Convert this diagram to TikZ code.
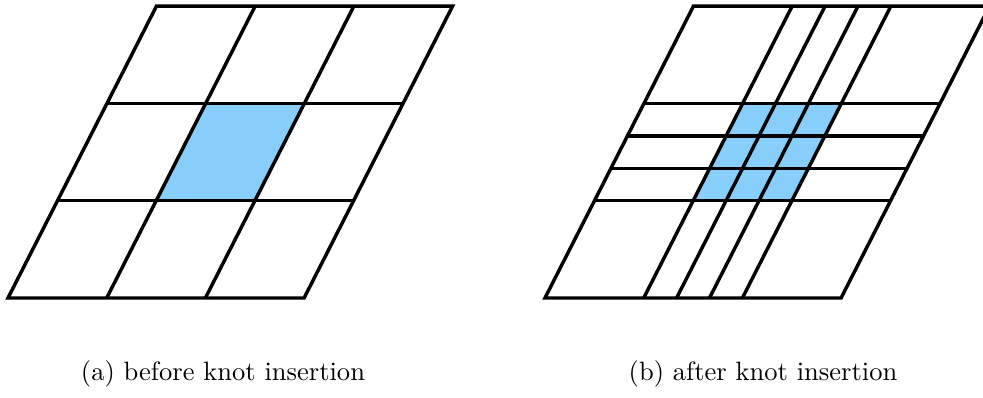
\documentclass[tikz,border=0pt]{standalone}
\definecolor{cellblue}{RGB}{135,206,250}
\begin{document}
\begin{tikzpicture}[x=0.377pt,y=0.377pt,every node/.style={font=\normalsize}]
\tikzset{gridline/.style={line width=1.3pt},cellfill/.style={fill=cellblue}}
\useasboundingbox (0,0) rectangle (983,398);
% before knot insertion
\begin{scope}[shift={(8,100)},x={(37.21pt,0pt)},y={(18.66pt,36.68pt)}]
\fill[cellfill] (1,1) -- (2,1) -- (2,2) -- (1,2) -- cycle;
\foreach \k in {1,2} {
\draw[gridline] (\k,0) -- (\k,3);
\draw[gridline] (0,\k) -- (3,\k);
}
\draw[gridline] (0,0) -- (3,0) -- (3,3) -- (0,3) -- cycle;
\end{scope}
% after knot insertion
\begin{scope}[shift={(545,100)},x={(37.21pt,0pt)},y={(18.66pt,36.68pt)}]
\fill[cellfill] (1,1) -- (2,1) -- (2,2) -- (1,2) -- cycle;
\foreach \k in {1,1.3333,1.6667,2} {
\draw[gridline] (\k,0) -- (\k,3);
\draw[gridline] (0,\k) -- (3,\k);
}
\draw[gridline] (0,0) -- (3,0) -- (3,3) -- (0,3) -- cycle;
\end{scope}
\node[anchor=base] (capa) at (223,17) {(a) before knot insertion};
\node[anchor=base] (capb) at (763,17) {(b) after knot insertion};
\end{tikzpicture}
\end{document}
